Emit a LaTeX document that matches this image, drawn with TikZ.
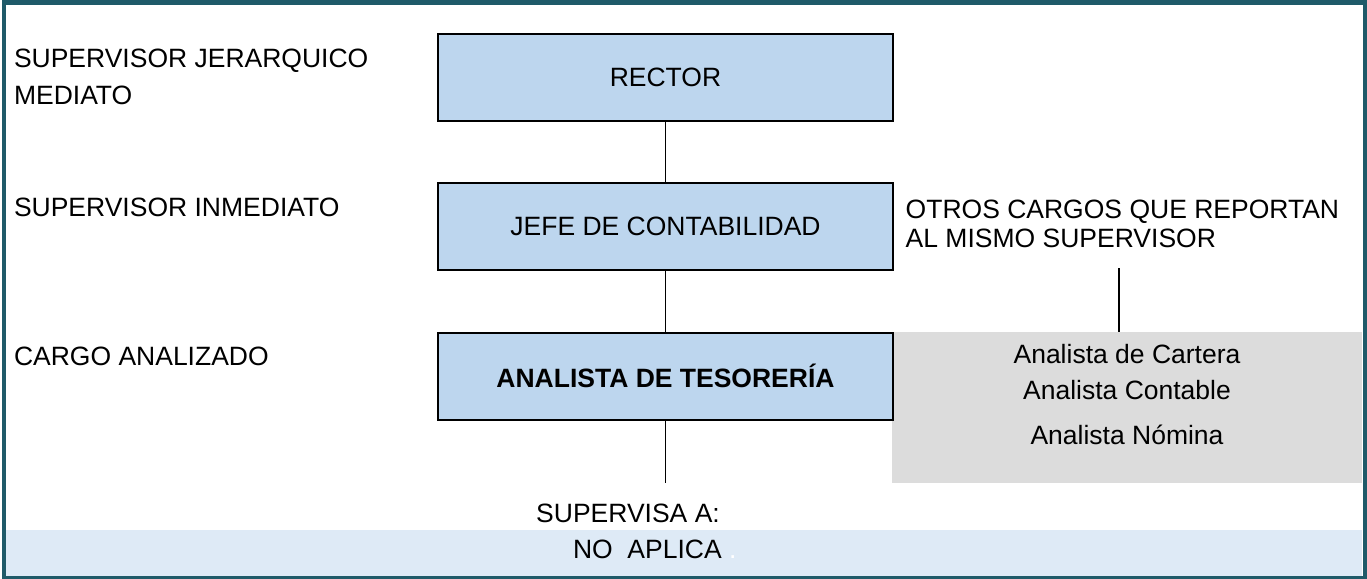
\documentclass[tikz,border=0pt]{standalone}
\usepackage{fontspec}
\setmainfont{Liberation Sans}
\definecolor{frameteal}{HTML}{1F5A69}
\definecolor{boxblue}{HTML}{BDD6EE}
\definecolor{bandblue}{HTML}{DEEAF6}
\definecolor{othergray}{HTML}{DCDCDC}
\begin{document}
\begin{tikzpicture}[x=1pt,y=-1pt,
  every node/.style={inner sep=0pt,outer sep=0pt,font=\fontsize{26.5}{37}\selectfont},
  cargobox/.style={draw=black,line width=2pt,fill=boxblue,minimum width=455pt,minimum height=87pt},
  lbl/.style={anchor=base west,align=left},
  ctr/.style={anchor=base},
  conn/.style={draw=black,line width=1.9pt}]
\useasboundingbox (0,0) rectangle (1367,578);
% bottom band
\fill[bandblue] (6,530) rectangle (1362,576);
% frame
\draw[frameteal,line width=4.5pt] (4,2.4) rectangle (1365,578);
% gray box of other positions
\node[fill=othergray,minimum width=470pt,minimum height=151pt] (otros) at (1127,407.5) {};
% boxes
\node[cargobox] (rector) at (665.5,77.5) {RECTOR};
\node[cargobox] (jefe) at (665.5,226.7) {JEFE DE CONTABILIDAD};
\node[cargobox] (analista) at (665.5,376) {\bfseries ANALISTA DE TESORER\'IA};
% left labels (base anchor = last line)
\node[lbl] (l1) at (14,104) {SUPERVISOR JERARQUICO\\MEDIATO};
\node[lbl] (l2) at (14,216.7) {SUPERVISOR INMEDIATO};
\node[lbl] (l3) at (14,365) {CARGO ANALIZADO};
\node[lbl,font=\fontsize{26.5}{29.5}\selectfont] (otrostxt) at (905.7,247.7) {OTROS CARGOS QUE REPORTAN\\AL MISMO SUPERVISOR};
% gray box texts
\node[ctr] (o1) at (1127,363.3) {Analista de Cartera};
\node[ctr] (o2) at (1127,399) {Analista Contable};
\node[ctr] (o3) at (1127,444) {Analista Nómina};
% bottom texts
\node[ctr] (supa) at (628,522.3) {SUPERVISA A:};
\node[anchor=base west] (noap) at (573,558.3) {NO\ \ APLICA \textcolor{white}{.}};
% connectors
\coordinate (bend) at (665.5,483);
\coordinate (otop) at (1119,268.3);
\draw[conn] (rector.south) -- (jefe.north);
\draw[conn] (jefe.south) -- (analista.north);
\draw[conn] (analista.south) -- (bend);
\draw[conn] (otop) -- (otop |- otros.north);
\end{tikzpicture}
\end{document}
